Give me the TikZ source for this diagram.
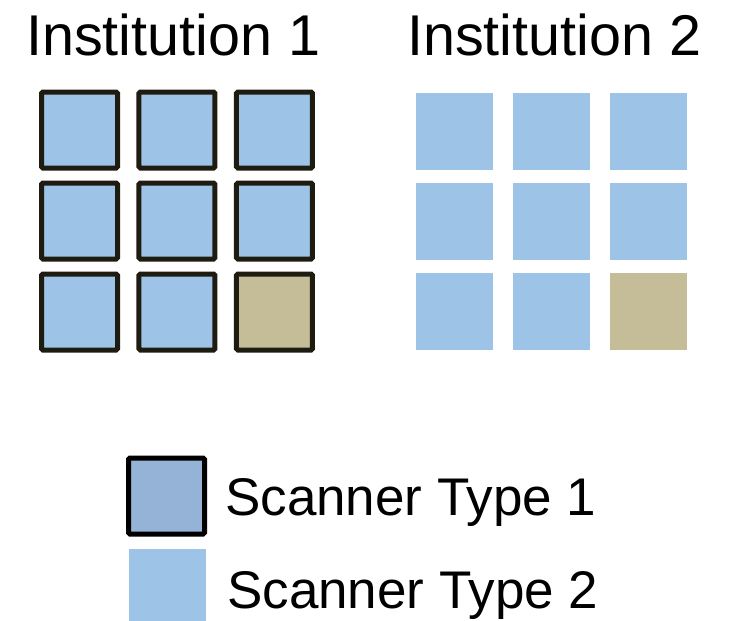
\documentclass[tikz,border=0pt]{standalone}
\usepackage{fontspec}
\setmainfont{Liberation Sans}
\usetikzlibrary{matrix, positioning}
\definecolor{scanblue}{HTML}{9DC3E6}
\definecolor{scantan}{HTML}{C4BD97}
\definecolor{keyblue}{HTML}{95B3D7}
\definecolor{darkframe}{HTML}{1E1C11}
\tikzset{
  typeone/.style={draw=darkframe, line width=5pt, rounded corners=1.5pt,
    fill=scanblue, minimum size=76pt, inner sep=0pt},
  typetwo/.style={fill=scanblue, minimum size=77pt, inner sep=0pt},
  oddone/.style={fill=scantan},
  headtext/.style={font=\fontsize{57.5}{60}\selectfont, inner sep=0pt},
  keytext/.style={font=\fontsize{53}{56}\selectfont, inner sep=0pt}
}

\begin{document}
\begin{tikzpicture}[x=1pt, y=-1pt]
    \useasboundingbox (0,0) rectangle (737,621);

    \node[headtext, anchor=base west] (title1) at (26,55) {Institution 1};
    \node[headtext, anchor=base west] (title2) at (407,55) {Institution 2};

    \matrix (inst1) at (177,221) [%
      matrix of nodes,
      nodes in empty cells,
      nodes={typeone},
      column sep=16.5pt,
      row sep=10pt
      ]
      {
        & & \\
        & & \\
        & & |[oddone]| \\
      };

    \matrix (inst2) at (551,221) [%
      matrix of nodes,
      nodes in empty cells,
      nodes={typetwo},
      column sep=20pt,
      row sep=13pt
      ]
      {
        & & \\
        & & \\
        & & |[oddone]| \\
      };

    % legend
    \node[typeone, draw=black, fill=keyblue] (key1) at (166.5,496) {};
    \node[typetwo] (key2) at (167.5,587.5) {};
    \node[keytext, anchor=base west] (keylabel1) at (225,515) {Scanner Type 1};
    \node[keytext, anchor=base west] (keylabel2) at (227,608) {Scanner Type 2};
\end{tikzpicture}
\end{document}
